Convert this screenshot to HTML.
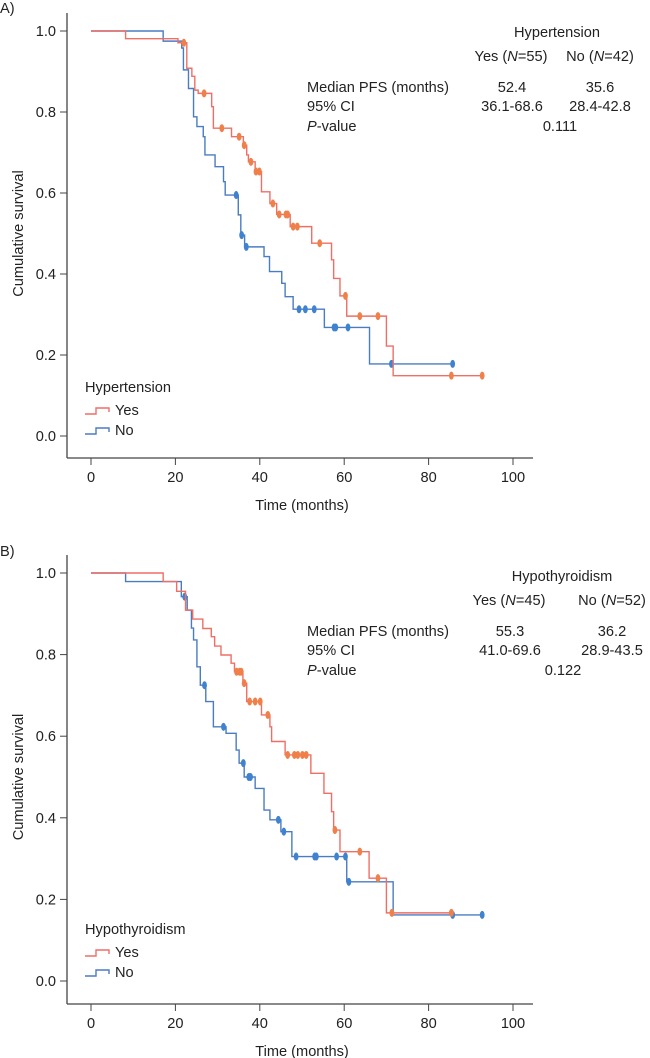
<!DOCTYPE html>
<html><head><meta charset="utf-8">
<style>
html,body{margin:0;padding:0;background:#fff;}
svg{display:block;font-family:"Liberation Sans","DejaVu Sans",sans-serif;}
text{fill:#222;}
</style></head>
<body>
<svg id="chart" width="650" height="1058" viewBox="0 0 650 1058" xmlns="http://www.w3.org/2000/svg"></svg>
<script>
// ---- Panel A data (Hypertension) ----
const aYesTimes = [8.2,20.6,22.7,23.9,24.6,25.4,28.6,29.0,33.3,36.1,36.9,37.3,38.9,40.4,42.4,44.0,47.2,52.3,57.0,57.5,59.0,60.6,70.0,71.6];
const aYesSurv  = [0.981,0.971,0.908,0.888,0.854,0.846,0.813,0.760,0.739,0.718,0.694,0.677,0.653,0.603,0.574,0.547,0.517,0.476,0.435,0.389,0.346,0.296,0.222,0.149];
const aYesCens  = [22.0,26.8,31.0,35.1,36.3,37.9,39.1,39.9,43.1,44.6,46.2,46.6,47.9,48.9,54.2,60.3,63.7,68.0,85.4,92.7];
const aNoTimes  = [17.1,21.5,21.9,23.1,24.3,25.1,26.6,27.0,29.4,31.4,31.8,34.9,35.5,36.4,41.0,42.3,45.2,46.0,47.9,55.3,66.0];
const aNoSurv   = [0.975,0.958,0.904,0.858,0.788,0.764,0.739,0.694,0.665,0.628,0.595,0.546,0.496,0.467,0.443,0.406,0.377,0.344,0.313,0.268,0.178];
const aNoCens   = [34.4,35.7,36.8,49.3,50.8,52.9,57.6,58.0,60.9,71.2,85.7];
// ---- Panel B data (Hypothyroidism) ----
const bYesTimes = [17.1,20.3,22.4,24.1,26.5,28.5,29.3,30.8,33.2,34.0,36.0,36.9,40.4,42.4,42.8,46.0,52.1,55.2,57.0,57.5,59.0,65.9,70.0];
const bYesSurv  = [0.979,0.955,0.909,0.887,0.864,0.844,0.821,0.799,0.779,0.758,0.730,0.685,0.652,0.623,0.587,0.554,0.509,0.460,0.415,0.370,0.317,0.252,0.167];
const bYesCens  = [34.5,35.2,35.6,36.3,37.6,38.9,40.1,41.9,46.6,48.2,49.0,50.1,51.0,57.8,63.7,68.0,71.3,85.4];
const bNoTimes  = [8.2,21.4,22.8,23.8,24.3,25.1,25.9,27.2,29.0,32.0,34.4,35.1,36.3,38.9,41.0,42.4,45.0,47.6,60.6,71.6];
const bNoSurv   = [0.979,0.942,0.909,0.865,0.836,0.770,0.725,0.685,0.623,0.607,0.566,0.534,0.500,0.472,0.419,0.395,0.366,0.305,0.243,0.162];
const bNoCens   = [22.2,26.9,31.4,36.1,37.4,37.8,44.4,45.7,48.6,53.0,53.4,58.2,60.3,61.1,85.7,92.7];
const xTicks = [0,20,40,60,80,100];
const yTicks = [0,0.2,0.4,0.6,0.8,1.0];

const NS = 'http://www.w3.org/2000/svg';
const svg = document.getElementById('chart');
const FS = 14.6;
function mk(tag, attrs, parent, txt){
  const e = document.createElementNS(NS, tag);
  for (const k in attrs) e.setAttribute(k, attrs[k]);
  if (txt !== undefined) e.textContent = txt;
  (parent||svg).appendChild(e);
  return e;
}
function survAt(times, surv, t){
  let s = 1;
  for (let i=0;i<times.length;i++){ if (times[i] <= t) s = surv[i]; }
  return s;
}

function panel(p){
  const x0=91, x1=513;
  const xs = t => x0 + (x1-x0)*t/100;
  const ys = s => p.yZero - (p.yZero-p.yOne)*s;
  const g = mk('g', {}, svg);
  
  
  const lab = mk('text', {x:0, y:p.labY, 'font-size':FS}, g, p.label);
  
  
  const ya = mk('line', {x1:67, y1:p.yOne-18, x2:67, y2:p.axisY, stroke:'#444', 'stroke-width':1.3}, g);
  
  
  const xa = mk('line', {x1:67, y1:p.axisY, x2:533, y2:p.axisY, stroke:'#444', 'stroke-width':1.3}, g);
  
  
  yTicks.forEach(v=>{
    const tk = mk('line', {x1:60, y1:ys(v), x2:67, y2:ys(v), stroke:'#444', 'stroke-width':1}, g);
    
    
    const tl = mk('text', {x:56, y:ys(v)+5, 'font-size':FS, 'text-anchor':'end'}, g, v.toFixed(1));
    
    
  });
  xTicks.forEach(v=>{
    const tk = mk('line', {x1:xs(v), y1:p.axisY, x2:xs(v), y2:p.axisY+7, stroke:'#444', 'stroke-width':1}, g);
    
    
    const tl = mk('text', {x:xs(v), y:p.axisY+24, 'font-size':FS, 'text-anchor':'middle'}, g, String(v));
    
    
  });
  const xt = mk('text', {x:302, y:p.axisY+52, 'font-size':FS, 'text-anchor':'middle'}, g, 'Time (months)');
  
  
  const cy = (p.yOne+p.yZero)/2;
  const yt = mk('text', {x:0, y:0, 'font-size':FS, 'text-anchor':'middle', transform:`translate(23,${cy}) rotate(-90)`}, g, 'Cumulative survival');
  
  

  function curve(times, surv, cens, color, mcolor, nm){
    const endT = Math.max(times[times.length-1], cens.length?cens[cens.length-1]:0);
    let d = `M${xs(0)},${ys(1)}`;
    for (let i=0;i<times.length;i++){
      d += ` H${xs(times[i])} V${ys(surv[i])}`;
    }
    d += ` H${xs(endT)}`;
    const path = mk('path', {d:d, fill:'none', stroke:color, 'stroke-width':1.4}, g);
    
    
    cens.forEach(t=>{
      const m = mk('ellipse', {cx:xs(t), cy:ys(survAt(times,surv,t)), rx:2.4, ry:4, fill:mcolor}, g);
      
      
    });
  }
  curve(p.noT, p.noS, p.noC, '#4a7cc2', '#3f82cf', 'no');
  curve(p.yesT, p.yesS, p.yesC, '#ef6f66', '#f0804a', 'yes');

  const lg = mk('g', {}, g);
  
  
  mk('text', {x:85, y:p.legY, 'font-size':FS}, lg, p.group);
  const ly1 = p.legY+22, ly2 = p.legY+42;
  const e1 = mk('path', {d:`M85,${ly1} H96 V${ly1-6} H109 V${ly1-2}`, fill:'none', stroke:'#ef6f66', 'stroke-width':1.4}, lg);
  
  
  mk('text', {x:115, y:ly1+1, 'font-size':FS}, lg, 'Yes');
  const e2 = mk('path', {d:`M85,${ly2} H96 V${ly2-6} H109 V${ly2-2}`, fill:'none', stroke:'#4a7cc2', 'stroke-width':1.4}, lg);
  
  
  mk('text', {x:115, y:ly2+1, 'font-size':FS}, lg, 'No');

  const tb = mk('g', {'font-size':FS}, g);
  
  
  const b = p.tabY;
  mk('text', {x:p.gx, y:b, 'text-anchor':'middle'}, tb, p.group);
  const h = mk('text', {x:p.c1, y:b+24, 'text-anchor':'middle'}, tb);
  h.innerHTML = `Yes (<tspan font-style="italic">N</tspan>=${p.nYes})`;
  const h2 = mk('text', {x:p.c2, y:b+24, 'text-anchor':'middle'}, tb);
  h2.innerHTML = `No (<tspan font-style="italic">N</tspan>=${p.nNo})`;
  mk('text', {x:307, y:b+55}, tb, 'Median PFS (months)');
  mk('text', {x:307, y:b+74}, tb, '95% CI');
  const pv = mk('text', {x:307, y:b+94}, tb);
  pv.innerHTML = '<tspan font-style="italic">P</tspan>-value';
  mk('text', {x:p.c1+1, y:b+55, 'text-anchor':'middle'}, tb, p.med1);
  mk('text', {x:p.c2, y:b+55, 'text-anchor':'middle'}, tb, p.med2);
  mk('text', {x:p.c1+1, y:b+74, 'text-anchor':'middle'}, tb, p.ci1);
  mk('text', {x:p.c2, y:b+74, 'text-anchor':'middle'}, tb, p.ci2);
  mk('text', {x:p.pvx, y:b+94, 'text-anchor':'middle'}, tb, p.pval);
}

panel({name:'panel-a-hypertension', label:'A)', labY:13, yOne:31, yZero:436, axisY:458,
  yesT:aYesTimes, yesS:aYesSurv, yesC:aYesCens, noT:aNoTimes, noS:aNoSurv, noC:aNoCens,
  group:'Hypertension', legY:392, tabY:37, gx:557, c1:511, c2:600, nYes:55, nNo:42,
  med1:'52.4', med2:'35.6', ci1:'36.1-68.6', ci2:'28.4-42.8', pval:'0.111', pvx:560});
panel({name:'panel-b-hypothyroidism', label:'B)', labY:556, yOne:573, yZero:981, axisY:1004,
  yesT:bYesTimes, yesS:bYesSurv, yesC:bYesCens, noT:bNoTimes, noS:bNoSurv, noC:bNoCens,
  group:'Hypothyroidism', legY:934, tabY:581, gx:562, c1:509, c2:612, nYes:45, nNo:52,
  med1:'55.3', med2:'36.2', ci1:'41.0-69.6', ci2:'28.9-43.5', pval:'0.122', pvx:563});
</script>
</body></html>
